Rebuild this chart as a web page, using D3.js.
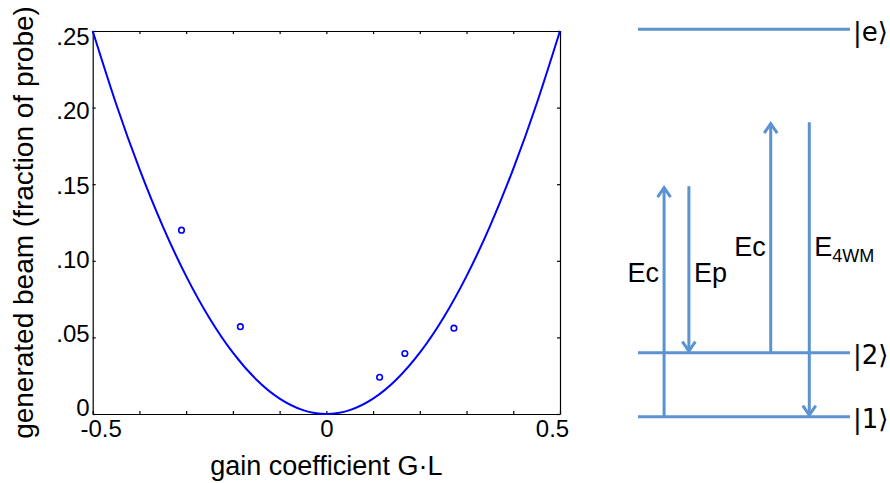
<!DOCTYPE html>
<html>
<head>
<meta charset="utf-8">
<script src="https://cdn.jsdelivr.net/npm/d3@7"></script>
<style>
  body { margin: 0; background: #fff; }
  text { font-family: "Liberation Sans", Arial, sans-serif; fill: #000; }
</style>
</head>
<body>
<script>
/* ------------------------------ Data ------------------------------*/

// measured points (gain coefficient G.L, generated beam)
var pointGain = [-0.31, -0.184, 0.114, 0.168, 0.273];
var pointBeam = [0.120, 0.057, 0.024, 0.0395, 0.056];

// theory curve
var curveGain = [-0.5, -0.45, -0.4, -0.35, -0.3, -0.25, -0.2, -0.15, -0.1, -0.05, 0,
                 0.05, 0.1, 0.15, 0.2, 0.25, 0.3, 0.35, 0.4, 0.45, 0.5];
var curveBeam = [0.25, 0.2025, 0.16, 0.1225, 0.09, 0.0625, 0.04, 0.0225, 0.01, 0.0025, 0,
                 0.0025, 0.01, 0.0225, 0.04, 0.0625, 0.09, 0.1225, 0.16, 0.2025, 0.25];

// ticks
var xTickValues = [-0.5, -0.4, -0.3, -0.2, -0.1, 0, 0.1, 0.2, 0.3, 0.4, 0.5];
var xTickLabels = ["-0.5", "", "", "", "", "0", "", "", "", "", "0.5"];
var yTickValues = [0, 0.05, 0.10, 0.15, 0.20, 0.25];
var yTickLabels = ["0", ".05", ".10", ".15", ".20", ".25"];

// level scheme
var levelNames = ["|1\u27E9", "|2\u27E9", "|e\u27E9"];
var levelEnergy = [0, 1, 6.05];
var fieldNames = ["Ec", "Ep", "Ec", "E"];
var fieldSubs = ["", "", "", "4WM"];
var fieldFrom = [0, 3.6, 1, 4.6];
var fieldTo = [3.6, 1, 4.6, 0];
var fieldColumn = [1.23, 2.4, 6.26, 8.08];

/* ------------------------------ Chart ------------------------------*/

var width = 890, height = 483;
var svg = d3.select("body").append("svg")
    .attr("width", width)
    .attr("height", height);

var x = d3.scaleLinear().domain([-0.5, 0.5]).range([92.7, 560]);
var y = d3.scaleLinear().domain([0, 0.25]).range([414, 31]);

var tickFont = 24;

function styleAxis(g) {
  g.select(".domain").attr("stroke", "#000").attr("stroke-width", 1.2);
  g.selectAll(".tick line").attr("stroke", "#000").attr("stroke-width", 1.2);
  g.selectAll("text").attr("font-family", "Liberation Sans, Arial, sans-serif")
    .attr("font-size", tickFont).attr("fill", "#000");
}

// bottom + top
var xAxisG = svg.append("g")
    .attr("transform", "translate(0," + y(0) + ")")
    .call(d3.axisBottom(x).tickValues(xTickValues).tickSize(-3).tickSizeOuter(0).tickPadding(6)
      .tickFormat(function(d, i) { return xTickLabels[i]; }))
    .call(styleAxis);
// end labels are pulled inside the box, like matlab does
xAxisG.selectAll(".tick text")
    .attr("dx", function(d) { return d === -0.5 ? 8 : (d === 0.5 ? -8 : 0); });

svg.append("g")
    .attr("transform", "translate(0," + y(0.25) + ")")
    .call(d3.axisTop(x).tickValues(xTickValues).tickSize(-3).tickSizeOuter(0).tickFormat(""))
    .call(styleAxis);

// left + right
var yAxisG = svg.append("g")
    .attr("transform", "translate(" + x(-0.5) + ",0)")
    .call(d3.axisLeft(y).tickValues(yTickValues).tickSize(-3).tickSizeOuter(0).tickPadding(3)
      .tickFormat(function(d, i) { return yTickLabels[i]; }))
    .call(styleAxis);
var yMid = (y(0) + y(0.25)) / 2;
yAxisG.selectAll(".tick text")
    .attr("y", function(d) { return (yMid - y(d)) * 0.03; });

svg.append("g")
    .attr("transform", "translate(" + x(0.5) + ",0)")
    .call(d3.axisRight(y).tickValues(yTickValues).tickSize(-3).tickSizeOuter(0).tickFormat(""))
    .call(styleAxis);

// curve
var line = d3.line()
    .x(function(d, i) { return x(curveGain[i]); })
    .y(function(d, i) { return y(curveBeam[i]); })
    .curve(d3.curveNatural);

svg.append("path")
    .datum(curveGain)
    .attr("d", line)
    .attr("fill", "none")
    .attr("stroke", "#0000ff")
    .attr("stroke-width", 2);

// measured points
svg.selectAll("circle.pt")
    .data(pointGain)
  .enter().append("circle")
    .attr("class", "pt")
    .attr("cx", function(d) { return x(d); })
    .attr("cy", function(d, i) { return y(pointBeam[i]); })
    .attr("r", 2.8)
    .attr("fill", "#fff")
    .attr("stroke", "#0000ff")
    .attr("stroke-width", 1.6);

// axis titles
svg.append("text")
    .attr("x", (x(-0.5) + x(0.5)) / 2)
    .attr("y", 475)
    .attr("text-anchor", "middle")
    .attr("font-size", 27)
    .text("gain coefficient G\u00B7L");

svg.append("text")
    .attr("transform", "translate(33," + yMid + ") rotate(-90)")
    .attr("text-anchor", "middle")
    .attr("font-size", 28)
    .text("generated beam (fraction of probe)");

/* ------------------------------ Level scheme ------------------------------*/

var blue = "#5b93d1";
var ye = d3.scaleLinear().domain([0, 6.05]).range([416.7, 29.3]);
var xd = d3.scaleLinear().domain([0, 10]).range([638, 850]);

var scheme = svg.append("g");

scheme.selectAll("line.level")
    .data(levelEnergy)
  .enter().append("line")
    .attr("x1", xd(0)).attr("x2", xd(10))
    .attr("y1", function(d) { return ye(d); })
    .attr("y2", function(d) { return ye(d); })
    .attr("stroke", blue)
    .attr("stroke-width", 3);

scheme.selectAll("text.level")
    .data(levelEnergy)
  .enter().append("text")
    .attr("x", xd(10) + 3)
    .attr("y", function(d) { return ye(d) + 11.5; })
    .attr("font-size", 26)
    .style("font-family", "'DejaVu Sans', 'Liberation Sans', sans-serif")
    .text(function(d, i) { return levelNames[i]; });

// transitions
fieldColumn.forEach(function(c, i) {
  var cx = xd(c), y0 = ye(fieldFrom[i]), y1 = ye(fieldTo[i]);
  var dir = y1 < y0 ? 1 : -1;   // 1 = pointing up
  scheme.append("line")
      .attr("x1", cx).attr("x2", cx)
      .attr("y1", y0).attr("y2", y1 + dir * 1)
      .attr("stroke", blue).attr("stroke-width", 3);
  scheme.append("path")
      .attr("d", "M" + (cx - 6.5) + "," + (y1 + dir * 11) + "L" + cx + "," + (y1 + dir * 1.5) +
                 "L" + (cx + 6.5) + "," + (y1 + dir * 11))
      .attr("fill", "none").attr("stroke", blue).attr("stroke-width", 3)
      .attr("stroke-linejoin", "miter");
});

// field labels
var labelBase = [281.7, 281.7, 255.7, 255.7];
var labelSide = [-1, 1, -1, 1];
fieldNames.forEach(function(name, i) {
  var cx = xd(fieldColumn[i]);
  var t = scheme.append("text")
      .attr("x", cx + labelSide[i] * 5)
      .attr("y", labelBase[i])
      .attr("text-anchor", labelSide[i] < 0 ? "end" : "start")
      .attr("font-size", 27)
      .text(name);
  if (fieldSubs[i]) {
    t.append("tspan").attr("dy", 6).attr("font-size", 18).text(fieldSubs[i]);
  }
});
</script>
</body>
</html>
